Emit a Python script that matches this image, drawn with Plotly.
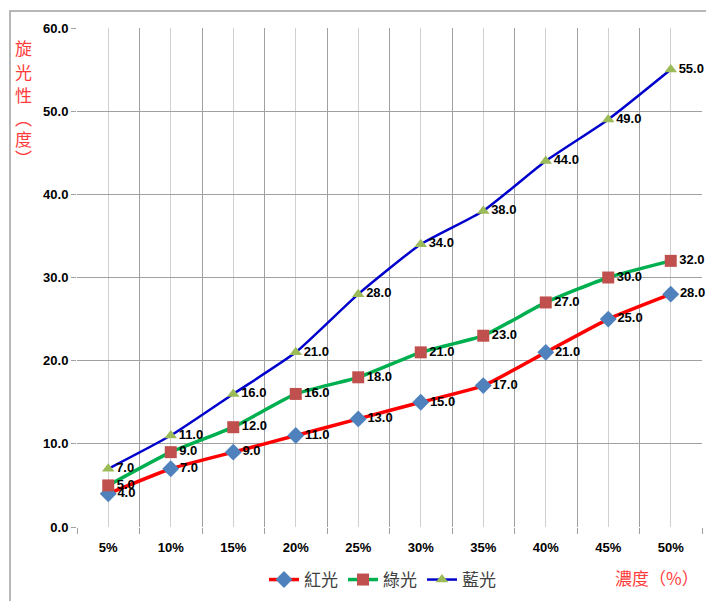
import plotly.graph_objects as go

# Concentration levels and measured optical rotation (degrees)
concentrations = ["5%", "10%", "15%", "20%", "25%", "30%", "35%", "40%", "45%", "50%"]
red_light = [4.0, 7.0, 9.0, 11.0, 13.0, 15.0, 17.0, 21.0, 25.0, 28.0]
green_light = [5.0, 9.0, 12.0, 16.0, 18.0, 21.0, 23.0, 27.0, 30.0, 32.0]
blue_light = [7.0, 11.0, 16.0, 21.0, 28.0, 34.0, 38.0, 44.0, 49.0, 55.0]
series_names = ["紅光", "綠光", "藍光"]
y_title_chars = ["旋", "光", "性", "︵", "度", "︶"]

W, H = 706, 601
ML, MR, MT, MB = 77, 4, 28, 73
PW, PH = W - ML - MR, H - MT - MB

xs = list(range(len(concentrations)))
font_main = "Liberation Sans, Arial, sans-serif"
font_cjk = "Noto Sans CJK TC, Noto Sans CJK SC, sans-serif"
title_red = "#FF3B3B"


def px_x(p):
    return (p - ML) / PW


def px_y(p):
    return (H - MB - p) / PH


styles = [
    dict(values=red_light, line=dict(color="#FF0000", width=3.5),
         marker=dict(symbol="diamond", color="#4F81BD", size=13)),
    dict(values=green_light, line=dict(color="#00B050", width=3.5),
         marker=dict(symbol="square", color="#C0504D", size=12)),
    dict(values=blue_light, line=dict(color="#0000CD", width=2.5),
         marker=dict(symbol="triangle-up", color="#9BBB59", size=11)),
]

fig = go.Figure()
for name, st in zip(series_names, styles):
    fig.add_trace(go.Scatter(
        x=xs, y=st["values"], name=name,
        mode="lines+markers+text",
        line=dict(color=st["line"]["color"], width=st["line"]["width"],
                  shape="spline", smoothing=0.5),
        marker=st["marker"],
        text=[f"{v:.1f}" for v in st["values"]],
        textposition="middle right",
        textfont=dict(family=font_main, size=13, color="#000000", weight="bold"),
        cliponaxis=False,
    ))

fig.update_xaxes(
    range=[-0.5, len(concentrations) - 0.5],
    tickmode="array", tickvals=xs, ticktext=concentrations,
    tickfont=dict(family=font_main, size=13, color="#000000", weight="bold"),
    showgrid=True, gridcolor="#D0D0D0", gridwidth=1,
    ticks="", ticklabelstandoff=11,
    showline=False, zeroline=False,
    minor=dict(tick0=-0.5, dtick=1, showgrid=True, gridcolor="#A0A0A0",
               gridwidth=1, ticks="outside", ticklen=6, tickcolor="#A0A0A0"),
)
fig.update_yaxes(
    range=[0, 60], dtick=10, tickformat=".1f",
    tickfont=dict(family=font_main, size=13, color="#000000", weight="bold"),
    showgrid=True, gridcolor="#A0A0A0", gridwidth=1,
    ticks="outside", ticklen=5, tickcolor="#A0A0A0",
    showline=False, zeroline=False,
)

# Outer chart frame
fig.add_shape(type="rect", xref="paper", yref="paper",
              x0=px_x(10), x1=px_x(W + 5), y0=px_y(H + 5), y1=px_y(11),
              line=dict(color="#A0A0A0", width=1.5), layer="below")

# Vertical y-axis title, one character per line
for ch, ypix in zip(y_title_chars, [48, 72, 95, 118, 139, 158]):
    fig.add_annotation(xref="paper", yref="paper", x=px_x(23), y=px_y(ypix),
                       text=ch, showarrow=False,
                       font=dict(family=font_cjk, size=17, color=title_red),
                       xanchor="center", yanchor="middle")

fig.add_annotation(xref="paper", yref="paper", x=px_x(657), y=px_y(579),
                   text="濃度（%）", showarrow=False,
                   font=dict(family=font_cjk, size=17, color=title_red),
                   xanchor="center", yanchor="middle")

fig.update_layout(
    width=W, height=H,
    margin=dict(l=ML, r=MR, t=MT, b=MB),
    paper_bgcolor="white", plot_bgcolor="white",
    showlegend=True,
    legend=dict(orientation="h", xref="paper", yref="paper",
                x=px_x(264), y=px_y(580), xanchor="left", yanchor="middle",
                font=dict(family=font_cjk, size=17, color="#404040"),
                itemwidth=30, tracegroupgap=0, bgcolor="rgba(0,0,0,0)"),
)

fig.write_html("out.html")
